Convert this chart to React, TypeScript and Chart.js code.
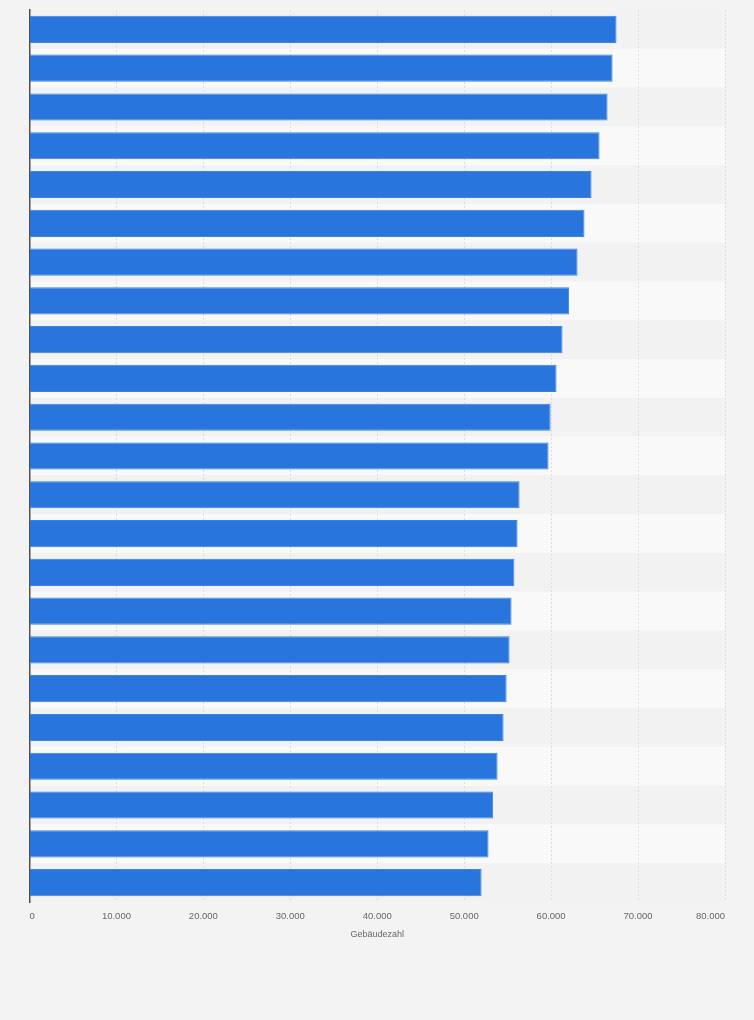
import { useEffect, useRef } from "react";
import { Chart, registerables, Plugin } from "chart.js";

Chart.register(...registerables);

// ranks only — the category names are not shown in the chart
const labels = [
  "1", "2", "3", "4", "5", "6", "7", "8", "9", "10", "11", "12",
  "13", "14", "15", "16", "17", "18", "19", "20", "21", "22", "23",
];
const buildings = [
  67520, 67070, 66490, 65570, 64650, 63840, 63040, 62070, 61310, 60620,
  59940, 59700, 56370, 56140, 55770, 55450, 55220, 54880, 54530, 53840,
  53330, 52800, 52000,
];
const xTicks = [0, 10000, 20000, 30000, 40000, 50000, 60000, 70000, 80000];

// alternating row bands behind the bars
const stripes: Plugin<"bar"> = {
  id: "stripes",
  beforeDraw(chart) {
    const { ctx, chartArea, scales } = chart;
    const y = scales.y;
    const band = chartArea.height / labels.length;
    ctx.save();
    labels.forEach((_, i) => {
      const c = y.getPixelForValue(i);
      ctx.fillStyle = i % 2 === 0 ? "#f2f2f2" : "#f9f9f9";
      ctx.fillRect(chartArea.left, c - band / 2, chartArea.right - chartArea.left, band);
    });
    ctx.restore();
  },
};

export default function App() {
  const canvasRef = useRef<HTMLCanvasElement>(null);
  const chartRef = useRef<Chart | null>(null);

  useEffect(() => {
    document.body.style.margin = "0";
    if (!canvasRef.current) return;
    chartRef.current?.destroy();
    chartRef.current = new Chart(canvasRef.current, {
      type: "bar",
      data: {
        labels,
        datasets: [
          {
            label: "Gebäudezahl",
            data: buildings,
            backgroundColor: "#2876dd",
            borderColor: "#3d84e0",
            borderWidth: 1,
            barPercentage: 0.7,
            categoryPercentage: 1,
          },
        ],
      },
      options: {
        indexAxis: "y",
        animation: false,
        responsive: true,
        maintainAspectRatio: false,
        layout: { padding: { left: 29.5, right: 29, top: 10, bottom: 75 } },
        plugins: {
          legend: { display: false },
        },
        scales: {
          x: {
            min: 0,
            max: 80000,
            afterBuildTicks: (s) => {
              s.ticks = xTicks.map((v) => ({ value: v }));
            },
            afterFit: (s) => {
              s.height = 43;
            },
            grid: { color: "#dcdcdc", drawTicks: false, lineWidth: 1 },
            border: { display: false, dash: [2, 2] },
            ticks: {
              align: "inner",
              padding: 9,
              color: "#666666",
              font: { family: "Liberation Sans, Arial, sans-serif", size: 9.5 },
              callback: (v) => Number(v).toLocaleString("de-DE"),
            },
            title: {
              display: true,
              text: "Gebäudezahl",
              color: "#666666",
              padding: { top: 7, bottom: 5 },
              font: { family: "Liberation Sans, Arial, sans-serif", size: 9 },
            },
          },
          y: {
            grid: { display: false },
            ticks: { display: false },
            border: { display: true, color: "#505050", width: 1.5 },
            afterFit: (s) => {
              s.width = 0;
            },
          },
        },
      },
      plugins: [stripes],
    });
    return () => chartRef.current?.destroy();
  }, []);

  return (
    <div style={{ width: 754, height: 1020, background: "#f3f3f3" }}>
      <canvas
        ref={canvasRef}
        role="img"
        aria-label="Balkendiagramm der Gebäudezahl"
      />
    </div>
  );
}
